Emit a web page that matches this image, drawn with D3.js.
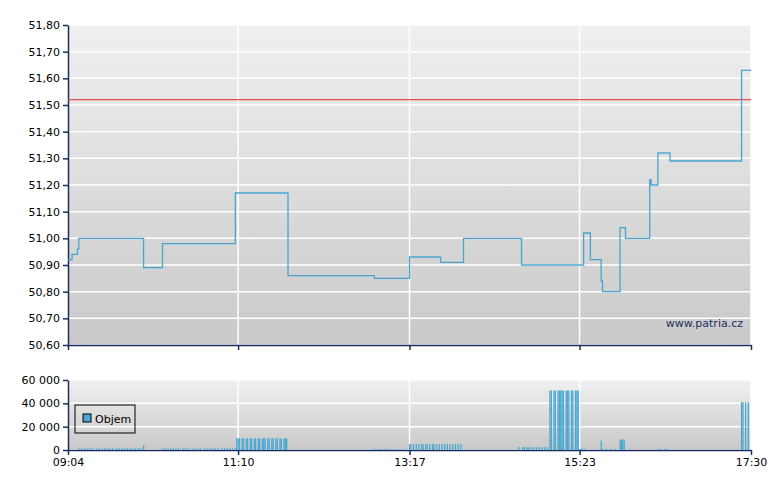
<!DOCTYPE html>
<html>
<head>
<meta charset="UTF-8">
<script src="https://d3js.org/d3.v7.min.js"></script>
<style>
  body { margin: 0; background: #fff; }
  text { font-family: "DejaVu Sans", Verdana, sans-serif; font-size: 11px; fill: #000; }
</style>
</head>
<body>
<script>
    // price steps: [time, value]
    const priceTimes = ["09:04","09:07","09:11","09:12","10:00","10:14","11:08","11:47","12:51","13:17","13:40","13:57","14:40","15:26","15:31","15:39","15:40","15:53","15:57","16:15","16:16","16:21","16:30","17:23","17:30"];
    const priceValues = [50.92,50.94,50.96,51.00,50.89,50.98,51.17,50.86,50.85,50.93,50.91,51.00,50.90,51.02,50.92,50.84,50.80,51.04,51.00,51.22,51.20,51.32,51.29,51.63,51.63];
    const refValue = 51.52;

    // volume bars
    const volTimes = [
        "09:12","09:14","09:16","09:18","09:20","09:22","09:25","09:27","09:29","09:31","09:33","09:35","09:37","09:40","09:42","09:44","09:46","09:48","09:50","09:52","09:54","09:56","09:58","10:00",
        "10:14","10:16","10:18","10:20","10:22","10:24","10:26","10:29","10:31","10:33","10:36","10:38","10:40","10:42","10:45","10:47","10:49","10:51","10:53","10:55","10:58","11:00","11:02","11:04","11:06","11:08",
        "11:09","11:10","11:11","11:13","11:14","11:16","11:17","11:19","11:20","11:22","11:23","11:25","11:26","11:28","11:29","11:30","11:32","11:33","11:35","11:36","11:38","11:39","11:41","11:42","11:44","11:45","11:46",
        "12:50","12:52","12:54","12:55","12:57","12:59","13:00","13:02","13:04","13:06","13:09","13:11","13:13",
        "13:17","13:18","13:20","13:22","13:24","13:26","13:27","13:29","13:30","13:32","13:34","13:35","13:37","13:39","13:41","13:43","13:45","13:47","13:49","13:51","13:53","13:55",
        "14:38","14:41","14:42","14:44","14:45","14:47","14:49","14:51","14:53","14:55","14:57","14:59",
        "15:01","15:02","15:04","15:05","15:07","15:08","15:09","15:10","15:11","15:13","15:14","15:15","15:17","15:18","15:20","15:21","15:22",
        "15:24","15:25","15:27","15:39","15:40","15:43","15:46","15:49","15:53","15:54","15:55","15:56",
        "16:21","16:23","16:26","16:28","17:23","17:24","17:26","17:28"];
    const volValues = [
        1500,1500,1500,1500,1500,1500,1500,1500,1500,1500,1500,1500,1500,1500,1500,1500,1500,1500,1500,1500,1500,1500,1500,4000,
        1500,1500,1500,1500,1500,1500,1500,1500,1500,1500,1500,1500,1500,1500,1500,1500,1500,1500,1500,1500,1500,1500,1500,1500,1500,1500,
        10000,10000,10000,10000,10000,10000,10000,10000,10000,10000,10000,10000,10000,10000,10000,10000,10000,10000,10000,10000,10000,10000,10000,10000,10000,10000,10000,
        800,900,800,800,800,900,800,800,800,600,800,700,600,
        5000,5000,5000,5000,5000,5000,5000,5000,5000,5000,5000,5000,5000,5000,5000,5000,5000,5000,5000,5000,5000,5000,
        2500,2500,2500,2500,2500,2500,2500,2500,2500,2500,2500,2500,
        51000,51000,51000,51000,51000,51000,51000,51000,51000,51000,51000,51000,51000,51000,51000,51000,51000,
        1000,1000,1000,8000,1000,1000,1000,1000,9000,9000,9000,9000,
        1000,1000,1000,1000,41000,41000,41000,41000];

    const timeTicks = ["09:04","11:10","13:17","15:23","17:30"];
    const priceTicks = [50.6,50.7,50.8,50.9,51.0,51.1,51.2,51.3,51.4,51.5,51.6,51.7,51.8];
    const volTicks = [0,20000,40000,60000];

    const parse = d3.timeParse("%H:%M");
    const width = 780, height = 490;
    const left = 68, right = 751;
    const navy = "#1b2f5e";

    const x = d3.scaleTime().domain([parse("09:04"), parse("17:30")]).range([left, right]);
    const y = d3.scaleLinear().domain([50.6, 51.8]).range([345, 25]);
    const yv = d3.scaleLinear().domain([0, 60000]).range([450, 380]);

    const svg = d3.select("body").append("svg").attr("width", width).attr("height", height);
    const grad = svg.append("defs").append("linearGradient").attr("id", "bg")
        .attr("x1", 0).attr("x2", 0).attr("y1", 0).attr("y2", 1);
    grad.append("stop").attr("offset", 0).attr("stop-color", "#f0f0f0");
    grad.append("stop").attr("offset", 1).attr("stop-color", "#c9c9c9");

    function panel(ys, ticks, fmt) {
        const [y0, y1] = ys.range();
        svg.append("rect").attr("x", left).attr("y", y1).attr("width", right - left).attr("height", y0 - y1)
            .attr("fill", "url(#bg)");
        svg.append("g").selectAll("line").data(ticks).join("line")
            .attr("x1", left).attr("x2", right).attr("y1", d => ys(d)).attr("y2", d => ys(d))
            .attr("stroke", "#fff").attr("stroke-width", 1.5);
        svg.append("g").selectAll("line").data(timeTicks).join("line")
            .attr("x1", d => x(parse(d))).attr("x2", d => x(parse(d))).attr("y1", y1).attr("y2", y0)
            .attr("stroke", "#fff").attr("stroke-width", 1.5);
        const ya = svg.append("g").attr("transform", `translate(${left},0)`)
            .call(d3.axisLeft(ys).tickValues(ticks).tickFormat(fmt).tickSize(5).tickSizeOuter(0));
        const xa = svg.append("g").attr("transform", `translate(0,${y0})`)
            .call(d3.axisBottom(x).tickValues(timeTicks.map(parse)).tickFormat(d3.timeFormat("%H:%M")).tickSize(5).tickSizeOuter(0));
        [ya, xa].forEach(g => {
            g.selectAll("path,line").attr("stroke", navy).attr("stroke-width", 1.5);
            g.selectAll("text").attr("fill", "#000").style("font-family", "DejaVu Sans").style("font-size", "11px");
        });
        return xa;
    }

    const fmtPrice = d => d3.format(".2f")(d).replace(".", ",");
    const xa1 = panel(y, priceTicks, fmtPrice);
    xa1.selectAll("text").remove();
    const xa2 = panel(yv, volTicks, d => d3.format(",")(d).replace(/,/g, " "));

    svg.append("line").attr("x1", left).attr("x2", right).attr("y1", y(refValue)).attr("y2", y(refValue))
        .attr("stroke", "#e05050").attr("stroke-width", 1.2);

    const pdata = priceTimes.map((t, i) => ({ t: parse(t), v: priceValues[i] }));
    svg.append("path").datum(pdata)
        .attr("fill", "none").attr("stroke", "#49a5cf").attr("stroke-width", 1.3)
        .attr("d", d3.line().curve(d3.curveStepAfter).x(d => x(d.t)).y(d => y(d.v)));

    const vdata = volTimes.map((t, i) => ({ t: parse(t), v: volValues[i] }));
    svg.append("g").selectAll("rect").data(vdata).join("rect")
        .attr("x", d => x(d.t) - 0.6).attr("width", 1.3)
        .attr("y", d => yv(d.v)).attr("height", d => 450 - yv(d.v))
        .attr("fill", "#49a8d2");

    svg.append("text").attr("x", 743).attr("y", 327).attr("text-anchor", "end")
        .attr("fill", navy).style("fill", navy).text("www.patria.cz");

    const lg = svg.append("g").attr("transform", "translate(75,405)");
    lg.append("rect").attr("width", 60).attr("height", 28).attr("fill", "none").attr("stroke", "#000");
    lg.append("rect").attr("x", 8).attr("y", 9).attr("width", 8).attr("height", 8)
        .attr("fill", "#49a8d2").attr("stroke", "#000");
    lg.append("text").attr("x", 20).attr("y", 18).text("Objem");
</script>
</body>
</html>
